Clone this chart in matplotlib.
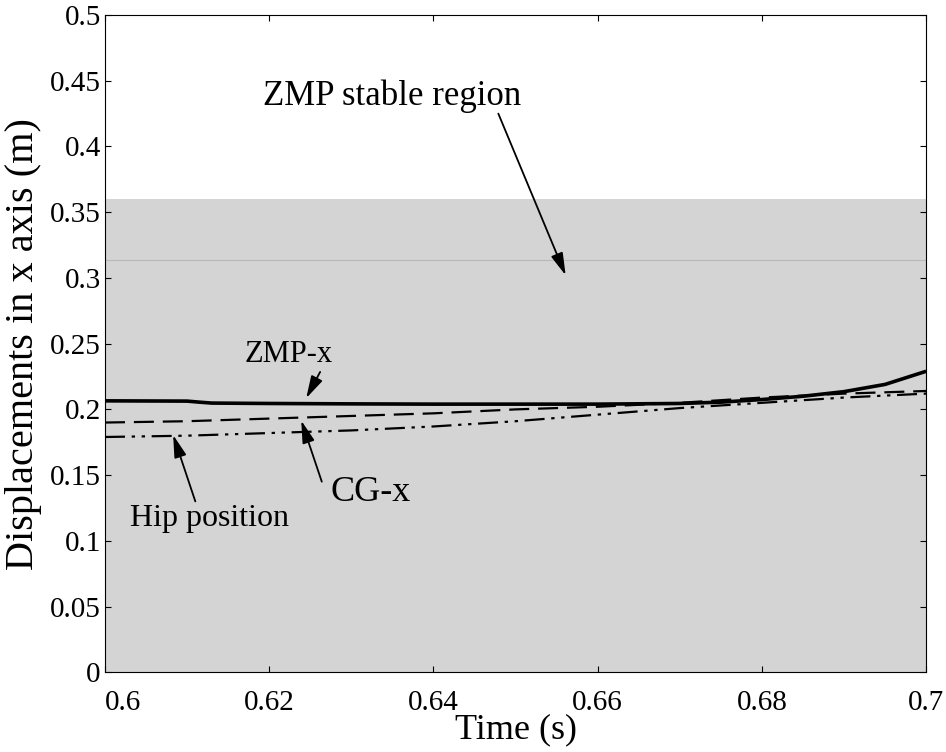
import numpy as np
import matplotlib
matplotlib.use('Agg')
import matplotlib.pyplot as plt

plt.rcParams['font.family'] = ['Liberation Serif', 'DejaVu Serif']

# stable region bounds (m)
region_low, region_high = 0.0, 0.36
region_faint_line = 0.314

# ZMP-x trajectory
t_zmp = [0.6, 0.61, 0.6115, 0.613, 0.62, 0.63, 0.64, 0.65, 0.66, 0.67, 0.675, 0.68, 0.685, 0.69, 0.695, 0.7]
zmp_x = [0.2065, 0.2063, 0.2055, 0.2048, 0.2045, 0.2042, 0.2040, 0.2040, 0.2040, 0.2045, 0.2055, 0.2075, 0.2100, 0.2135, 0.2190, 0.2290]

# CG-x and hip trajectories
t_cg = [0.6, 0.61, 0.62, 0.63, 0.64, 0.65, 0.66, 0.67, 0.68, 0.69, 0.7]
cg_x = [0.190, 0.191, 0.193, 0.195, 0.197, 0.200, 0.202, 0.205, 0.209, 0.212, 0.214]
hip_x = [0.179, 0.180, 0.182, 0.184, 0.187, 0.191, 0.196, 0.201, 0.205, 0.209, 0.212]

xticks = [0.6, 0.62, 0.64, 0.66, 0.68, 0.7]
xtick_labels = ['0.6', '0.62', '0.64', '0.66', '0.68', '0.7']
yticks = [0, 0.05, 0.1, 0.15, 0.2, 0.25, 0.3, 0.35, 0.4, 0.45, 0.5]
ytick_labels = ['0', '0.05', '0.1', '0.15', '0.2', '0.25', '0.3', '0.35', '0.4', '0.45', '0.5']

fig = plt.figure(figsize=(9.46, 7.52), dpi=100)
ax = fig.add_axes([0.111, 0.106, 0.868, 0.874])

# shaded stable region
ax.axhspan(region_low, region_high, color='#d4d4d4', lw=0, zorder=0)
ax.axhline(region_faint_line, color='#b8b8b8', lw=0.8, zorder=0.5)

ax.plot(t_zmp, zmp_x, color='black', lw=2.6, solid_capstyle='butt')
ax.plot(t_cg, cg_x, color='black', lw=1.6, linestyle=(0, (9, 4)))
ax.plot(t_cg, hip_x, color='black', lw=1.6, linestyle=(0, (9, 3, 1.5, 3, 1.5, 3)))

ax.set_xlim(0.6, 0.7)
ax.set_ylim(0, 0.5)
ax.set_xticks(xticks)
ax.set_xticklabels(xtick_labels)
ax.set_yticks(yticks)
ax.set_yticklabels(ytick_labels)
ax.tick_params(direction='in', length=4, width=0.8, labelsize=21, top=True, right=True)
ax.tick_params(axis='x', pad=13)
ax.tick_params(axis='y', pad=3)
ax.get_xticklabels()[0].set_horizontalalignment('left')
for sp in ax.spines.values():
    sp.set_linewidth(0.8)

ax.set_xlabel('Time (s)', fontsize=26, labelpad=-2)
ax.set_ylabel('Displacements in x axis (m)', fontsize=29, labelpad=6)

arrow = dict(arrowstyle='-|>,head_length=0.8,head_width=0.22', color='black', lw=1.3,
             mutation_scale=17, shrinkA=0, shrinkB=0)
ax.annotate('', xy=(0.6561, 0.302), xytext=(0.6479, 0.425), arrowprops=arrow)
ax.text(0.6193, 0.438, 'ZMP stable region', fontsize=25, va='center', ha='left')

ax.annotate('', xy=(0.6245, 0.2085), xytext=(0.6262, 0.2285), arrowprops=arrow)
ax.text(0.6170, 0.242, 'ZMP-x', fontsize=22, va='center', ha='left')

ax.annotate('', xy=(0.6239, 0.1915), xytext=(0.6264, 0.145), arrowprops=arrow)
ax.text(0.6275, 0.137, 'CG-x', fontsize=26, va='center', ha='left')

ax.annotate('', xy=(0.6083, 0.1805), xytext=(0.6110, 0.130), arrowprops=arrow)
ax.text(0.6030, 0.117, 'Hip position', fontsize=23, va='center', ha='left')

fig.savefig('out.png', dpi=100)
